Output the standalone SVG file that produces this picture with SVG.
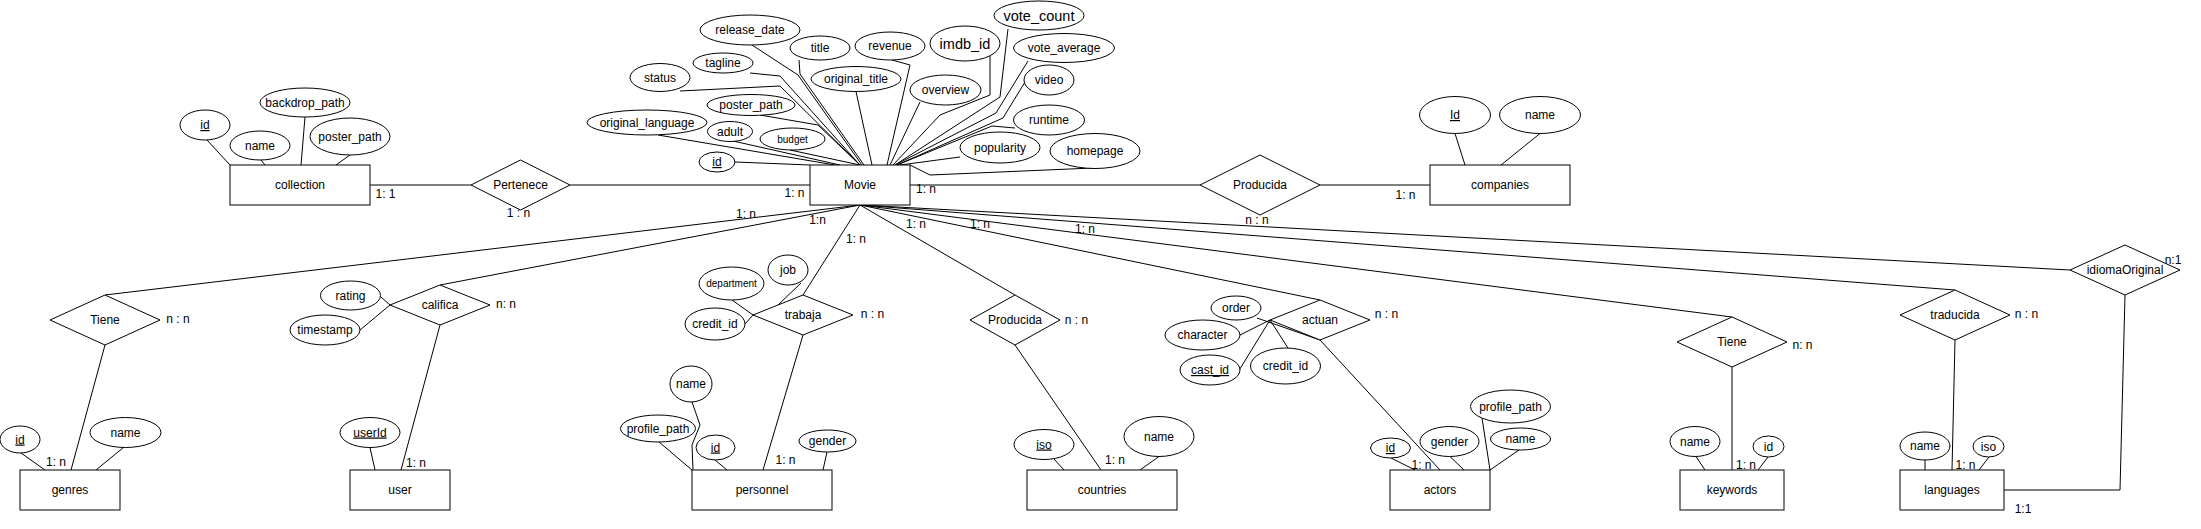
<svg xmlns="http://www.w3.org/2000/svg" width="2201" height="529" viewBox="0 0 2201 529">
<style>
.s{fill:#fff;stroke:#000;stroke-width:1}
.l{fill:none;stroke:#000;stroke-width:1}
text{font-family:"Liberation Sans",Arial,Helvetica,sans-serif;font-size:12px;fill:#000;text-anchor:middle}
.u{text-decoration:underline}
.b{font-size:14.5px}
.sm{font-size:10px}
</style>
<rect width="2201" height="529" fill="#fff"/>
<g id="connectors" class="l">
<path d="M370,185H471M570,185H810M910,185H1200M1320,185H1430"/>
<path d="M860,205L105,295M105,345L71,470"/>
<path d="M860,205L440,285M440,325L401,470"/>
<path d="M860,205L803,295M803,335L763,470"/>
<path d="M860,205L1015,295M1015,345L1101,470"/>
<path d="M860,205L1320,300M1320,340L1440,470"/>
<path d="M860,205L1732,317M1732,367L1732,470"/>
<path d="M860,205L1955,290M1955,340L1952,470"/>
<path d="M860,205L2070,270M2125,295L2120,490L2004,490"/>
<path d="M207,140L230,165M261,160L265,165M305,117L301,165M350,155L336,165"/>
<path d="M735,162L810,165M658,135L835,165M733,141L840,165M790,150L860,165M760,115L818,125L860,165M680,91L780,86L860,165M750,73L780,76L860,165M752,45L798,75L862,165M799,60L800,74L864,165M856,91.5L872,165"/>
<path d="M892,60L910,65L887,165M920,102L890,165M990,56L990,95L940,115L893,165M1008,29L1000,97L895,165M1028,61L996,113L895,165M1025,82L1003,118L897,165M1015,128L992,126L897,165M960,157L900,165M1093,168L930,175L910,165"/>
<path d="M1455,133.5L1465,165M1540,133.5L1501,165"/>
<path d="M21,453L45,470M124,447L96,470"/>
<path d="M381,297L390,305M360,330L390,305M370,447.5L375,470"/>
<path d="M801,283L778,305M732,300L753,315M745,324L753,315"/>
<path d="M692,402L700,425L692,445L693,470M659,442L692,470M715,460L727,470M827,452L823,470"/>
<path d="M1054,459L1064,470M1159,456.5L1140,470"/>
<path d="M1257,318L1320,340M1240,335L1270,320M1238,372L1270,320M1288,348L1270,320"/>
<path d="M1391,458L1415,470M1450,456.5L1464,470M1519,450L1490,470M1482,418L1490,470"/>
<path d="M1696,456.5L1705,470M1768,457L1758,470M1925,460L1925,470M1989,457L1979,470"/>
</g>
<g id="cardinalities">
<text x="385.5" y="198">1: 1</text>
<text x="518.5" y="217">1 : n</text>
<text x="794.5" y="197">1: n</text>
<text x="926" y="193">1: n</text>
<text x="1257" y="224">n : n</text>
<text x="1405.5" y="199">1: n</text>
<text x="746" y="218">1: n</text>
<text x="817.5" y="223.5">1:n</text>
<text x="856" y="243">1: n</text>
<text x="916" y="227.5">1: n</text>
<text x="980" y="228">1: n</text>
<text x="1085" y="233">1: n</text>
<text x="178" y="323">n : n</text>
<text x="56" y="466">1: n</text>
<text x="506" y="308">n: n</text>
<text x="416" y="467">1: n</text>
<text x="872.5" y="318">n : n</text>
<text x="785.5" y="463.5">1: n</text>
<text x="1076.5" y="323.5">n : n</text>
<text x="1115" y="464">1: n</text>
<text x="1386.5" y="318">n : n</text>
<text x="1421.5" y="468.5">1: n</text>
<text x="1802.5" y="349">n: n</text>
<text x="1746" y="469">1: n</text>
<text x="2026.5" y="318">n : n</text>
<text x="1965.5" y="469">1: n</text>
<text x="2173" y="264">n:1</text>
<text x="2023" y="512.5">1:1</text>
</g>
<g id="collection"><rect class="s" x="230" y="165" width="140" height="40"/><text x="300" y="189">collection</text></g>
<g id="Movie"><rect class="s" x="810" y="165" width="100" height="40"/><text x="860" y="189">Movie</text></g>
<g id="companies"><rect class="s" x="1430" y="165" width="140" height="40"/><text x="1500" y="189">companies</text></g>
<g id="genres"><rect class="s" x="20" y="470" width="100" height="40"/><text x="70" y="494">genres</text></g>
<g id="user"><rect class="s" x="350" y="470" width="100" height="40"/><text x="400" y="494">user</text></g>
<g id="personnel"><rect class="s" x="692" y="470" width="140" height="40"/><text x="762" y="494">personnel</text></g>
<g id="countries"><rect class="s" x="1027" y="470" width="150" height="40"/><text x="1102" y="494">countries</text></g>
<g id="actors"><rect class="s" x="1390" y="470" width="100" height="40"/><text x="1440" y="494">actors</text></g>
<g id="keywords"><rect class="s" x="1680" y="470" width="104" height="40"/><text x="1732" y="494">keywords</text></g>
<g id="languages"><rect class="s" x="1900" y="470" width="104" height="40"/><text x="1952" y="494">languages</text></g>
<g id="Pertenece"><polygon class="s" points="471,185 520.5,160 570,185 520.5,210"/><text x="520.5" y="189">Pertenece</text></g>
<g id="ProducidaCompanies"><polygon class="s" points="1200,185 1260,155 1320,185 1260,215"/><text x="1260" y="189">Producida</text></g>
<g id="TieneGenres"><polygon class="s" points="50,320 105,295 160,320 105,345"/><text x="105" y="324">Tiene</text></g>
<g id="califica"><polygon class="s" points="390,305 440,285 490,305 440,325"/><text x="440" y="309">califica</text></g>
<g id="trabaja"><polygon class="s" points="753,315 803,295 853,315 803,335"/><text x="803" y="319">trabaja</text></g>
<g id="ProducidaCountries"><polygon class="s" points="970,320 1015,295 1060,320 1015,345"/><text x="1015" y="324">Producida</text></g>
<g id="actuan"><polygon class="s" points="1270,320 1320,300 1370,320 1320,340"/><text x="1320" y="324">actuan</text></g>
<g id="TieneKeywords"><polygon class="s" points="1677,342 1732,317 1787,342 1732,367"/><text x="1732" y="346">Tiene</text></g>
<g id="traducida"><polygon class="s" points="1900,315 1955,290 2010,315 1955,340"/><text x="1955" y="319">traducida</text></g>
<g id="idiomaOriginal"><polygon class="s" points="2070,270 2125,245 2180,270 2125,295"/><text x="2125" y="274">idiomaOriginal</text></g>
<g id="collection_id"><ellipse class="s" cx="205" cy="125" rx="25" ry="15"/><text class="u" x="205" y="129">id</text></g>
<g id="collection_name"><ellipse class="s" cx="260" cy="145.5" rx="30" ry="14.5"/><text x="260" y="149.5">name</text></g>
<g id="collection_backdrop_path"><ellipse class="s" cx="305" cy="102.5" rx="45" ry="14.5"/><text x="305" y="106.5">backdrop_path</text></g>
<g id="collection_poster_path"><ellipse class="s" cx="350" cy="136.5" rx="40" ry="18.5"/><text x="350" y="140.5">poster_path</text></g>
<g id="movie_release_date"><ellipse class="s" cx="750" cy="30" rx="50" ry="15"/><text x="750" y="34">release_date</text></g>
<g id="movie_title"><ellipse class="s" cx="820" cy="48" rx="30" ry="12"/><text x="820" y="52">title</text></g>
<g id="movie_tagline"><ellipse class="s" cx="723" cy="63" rx="30" ry="10"/><text x="723" y="67">tagline</text></g>
<g id="movie_status"><ellipse class="s" cx="660" cy="77.5" rx="30" ry="14"/><text x="660" y="81.5">status</text></g>
<g id="movie_original_title"><ellipse class="s" cx="856" cy="79" rx="45" ry="12.5"/><text x="856" y="83">original_title</text></g>
<g id="movie_poster_path"><ellipse class="s" cx="751" cy="105" rx="44" ry="10.5"/><text x="751" y="109">poster_path</text></g>
<g id="movie_original_language"><ellipse class="s" cx="647" cy="122.5" rx="60" ry="12.5"/><text x="647" y="126.5">original_language</text></g>
<g id="movie_adult"><ellipse class="s" cx="730" cy="131.5" rx="22.5" ry="10"/><text x="730" y="135.5">adult</text></g>
<g id="movie_budget"><ellipse class="s" cx="792.5" cy="139" rx="32.5" ry="11"/><text class="sm" x="792.5" y="142.5">budget</text></g>
<g id="movie_id"><ellipse class="s" cx="717" cy="162" rx="18" ry="10"/><text class="u" x="717" y="166">id</text></g>
<g id="movie_revenue"><ellipse class="s" cx="890" cy="46" rx="35" ry="14"/><text x="890" y="50">revenue</text></g>
<g id="movie_imdb_id"><ellipse class="s" cx="965" cy="43.5" rx="35" ry="17.5"/><text class="b" x="965" y="48.5">imdb_id</text></g>
<g id="movie_vote_count"><ellipse class="s" cx="1039" cy="15.5" rx="45" ry="14.5"/><text class="b" x="1039" y="20.5">vote_count</text></g>
<g id="movie_vote_average"><ellipse class="s" cx="1064" cy="48" rx="50.5" ry="14.5"/><text x="1064" y="52">vote_average</text></g>
<g id="movie_video"><ellipse class="s" cx="1049" cy="80" rx="25" ry="15"/><text x="1049" y="84">video</text></g>
<g id="movie_overview"><ellipse class="s" cx="945.5" cy="90" rx="35.5" ry="15"/><text x="945.5" y="94">overview</text></g>
<g id="movie_runtime"><ellipse class="s" cx="1049" cy="120" rx="35.5" ry="15"/><text x="1049" y="124">runtime</text></g>
<g id="movie_popularity"><ellipse class="s" cx="1000" cy="147.5" rx="40" ry="15.5"/><text x="1000" y="151.5">popularity</text></g>
<g id="movie_homepage"><ellipse class="s" cx="1095" cy="151" rx="45" ry="17.5"/><text x="1095" y="155">homepage</text></g>
<g id="companies_Id"><ellipse class="s" cx="1455" cy="115" rx="35.5" ry="18.5"/><text class="u" x="1455" y="119">Id</text></g>
<g id="companies_name"><ellipse class="s" cx="1540" cy="115" rx="40.5" ry="18.5"/><text x="1540" y="119">name</text></g>
<g id="genres_id"><ellipse class="s" cx="20" cy="439.5" rx="20" ry="13.5"/><text class="u" x="20" y="443.5">id</text></g>
<g id="genres_name"><ellipse class="s" cx="125.5" cy="432.5" rx="35.5" ry="15"/><text x="125.5" y="436.5">name</text></g>
<g id="califica_rating"><ellipse class="s" cx="350.5" cy="295.5" rx="30" ry="14.5"/><text x="350.5" y="299.5">rating</text></g>
<g id="califica_timestamp"><ellipse class="s" cx="325" cy="330" rx="35" ry="15"/><text x="325" y="334">timestamp</text></g>
<g id="user_userId"><ellipse class="s" cx="370" cy="432.5" rx="30" ry="15"/><text class="u" x="370" y="436.5">userId</text></g>
<g id="trabaja_job"><ellipse class="s" cx="788" cy="270" rx="20" ry="15"/><text x="788" y="274">job</text></g>
<g id="trabaja_department"><ellipse class="s" cx="731.5" cy="283.5" rx="32.5" ry="16.5"/><text class="sm" x="731.5" y="287">department</text></g>
<g id="trabaja_credit_id"><ellipse class="s" cx="715" cy="324" rx="30" ry="16"/><text x="715" y="328">credit_id</text></g>
<g id="personnel_name"><ellipse class="s" cx="691" cy="384" rx="21" ry="18"/><text x="691" y="388">name</text></g>
<g id="personnel_profile_path"><ellipse class="s" cx="658" cy="428.5" rx="37.5" ry="13.5"/><text x="658" y="432.5">profile_path</text></g>
<g id="personnel_id"><ellipse class="s" cx="715.5" cy="447.5" rx="19.5" ry="12.5"/><text class="u" x="715.5" y="451.5">id</text></g>
<g id="personnel_gender"><ellipse class="s" cx="827.5" cy="441" rx="28.5" ry="11"/><text x="827.5" y="445">gender</text></g>
<g id="countries_iso"><ellipse class="s" cx="1044" cy="444.5" rx="30" ry="15"/><text class="u" x="1044" y="448.5">iso</text></g>
<g id="countries_name"><ellipse class="s" cx="1159" cy="436.5" rx="35" ry="20"/><text x="1159" y="440.5">name</text></g>
<g id="actuan_order"><ellipse class="s" cx="1236" cy="308" rx="25" ry="12"/><text x="1236" y="312">order</text></g>
<g id="actuan_character"><ellipse class="s" cx="1202.5" cy="335" rx="37.5" ry="15"/><text x="1202.5" y="339">character</text></g>
<g id="actuan_cast_id"><ellipse class="s" cx="1210" cy="370" rx="30" ry="15"/><text class="u" x="1210" y="374">cast_id</text></g>
<g id="actuan_credit_id"><ellipse class="s" cx="1285.5" cy="366" rx="35" ry="18"/><text x="1285.5" y="370">credit_id</text></g>
<g id="actors_id"><ellipse class="s" cx="1390.5" cy="448" rx="20" ry="10"/><text class="u" x="1390.5" y="452">id</text></g>
<g id="actors_gender"><ellipse class="s" cx="1449.5" cy="441.5" rx="29.5" ry="15"/><text x="1449.5" y="445.5">gender</text></g>
<g id="actors_name"><ellipse class="s" cx="1520.5" cy="439" rx="30" ry="11"/><text x="1520.5" y="443">name</text></g>
<g id="actors_profile_path"><ellipse class="s" cx="1510.5" cy="406.5" rx="40" ry="16.5"/><text x="1510.5" y="410.5">profile_path</text></g>
<g id="keywords_name"><ellipse class="s" cx="1695" cy="441.5" rx="25" ry="15"/><text x="1695" y="445.5">name</text></g>
<g id="keywords_id"><ellipse class="s" cx="1768.5" cy="446.5" rx="15.5" ry="10.5"/><text x="1768.5" y="450.5">id</text></g>
<g id="languages_name"><ellipse class="s" cx="1925" cy="446" rx="25" ry="14"/><text x="1925" y="450">name</text></g>
<g id="languages_iso"><ellipse class="s" cx="1988.5" cy="446.5" rx="15.5" ry="10.5"/><text x="1988.5" y="450.5">iso</text></g>
</svg>
